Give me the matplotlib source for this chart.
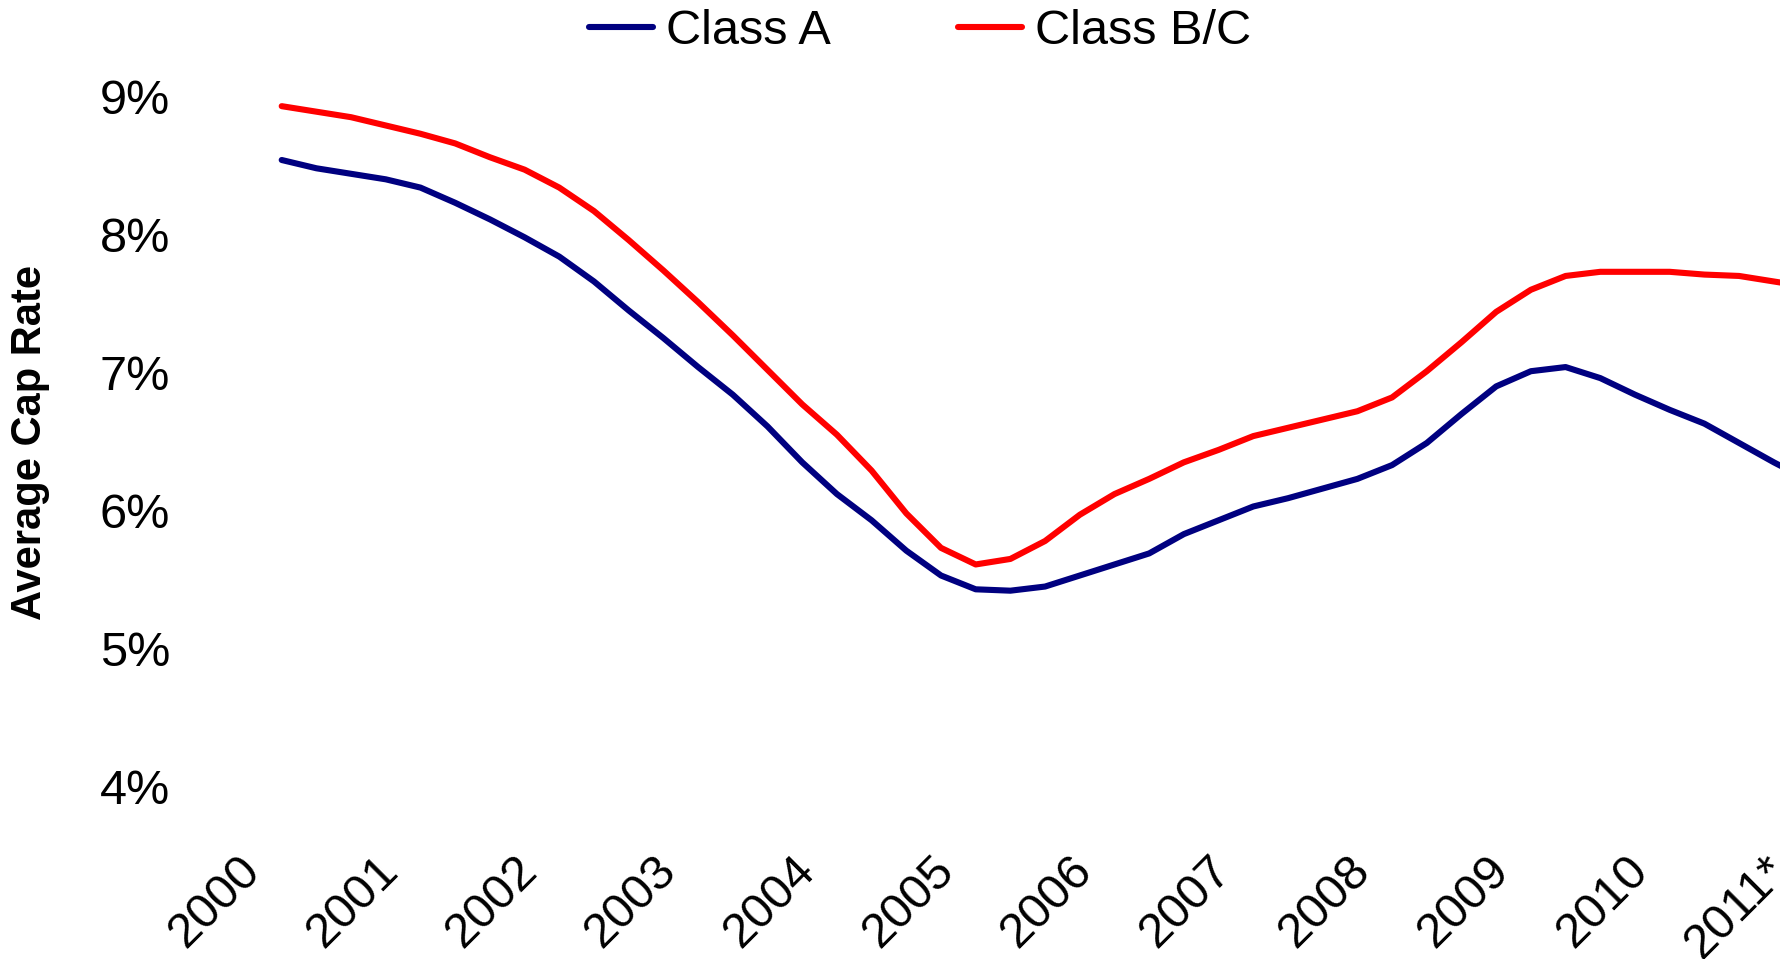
## Average cap rate, Class A vs Class B/C (quarterly)

import matplotlib
matplotlib.use('Agg')
import matplotlib.pyplot as plt
import numpy as np

plt.rcParams['font.family'] = ['Liberation Sans', 'DejaVu Sans']

########################################################################################################################

# Data (percent), one value per quarter starting 2000 Q1
class_a = [8.54, 8.48, 8.44, 8.40, 8.34, 8.23, 8.11, 7.98, 7.84, 7.66, 7.45, 7.25,
           7.04, 6.84, 6.61, 6.35, 6.12, 5.93, 5.71, 5.53, 5.43, 5.42, 5.45, 5.53,
           5.61, 5.69, 5.83, 5.93, 6.03, 6.09, 6.16, 6.23, 6.33, 6.49, 6.70, 6.90,
           7.01, 7.04, 6.96, 6.84, 6.73, 6.63, 6.49, 6.35, 6.22]

class_bc = [8.93, 8.89, 8.85, 8.79, 8.73, 8.66, 8.56, 8.47, 8.34, 8.17, 7.96, 7.74,
            7.51, 7.27, 7.02, 6.77, 6.55, 6.29, 5.98, 5.73, 5.61, 5.65, 5.78, 5.97,
            6.12, 6.23, 6.35, 6.44, 6.54, 6.60, 6.66, 6.72, 6.82, 7.01, 7.22, 7.44,
            7.60, 7.70, 7.73, 7.73, 7.73, 7.71, 7.70, 7.66, 7.62]

years = ['2000', '2001', '2002', '2003', '2004', '2005',
         '2006', '2007', '2008', '2009', '2010', '2011*']

y_ticks = [4, 5, 6, 7, 8, 9]

########################################################################################################################

quarters = np.arange(len(class_a))
label_offset = -1.29        # where the year labels sit relative to the first quarter of each year

fig = plt.figure(figsize=(17.8, 9.59), dpi=100)
ax = fig.add_axes([200 / 1780, 1 - 786.7 / 959, 1580 / 1780, 690.2 / 959])

line_a, = ax.plot(quarters, class_a, color='#000080', lw=4.4, solid_capstyle='round', label='Class A')
line_b, = ax.plot(quarters, class_bc, color='#FF0000', lw=4.4, solid_capstyle='round', label='Class B/C')

ax.set_xlim((200 - 281.7) / 34.7, (1780 - 281.7) / 34.7)
ax.set_ylim(4, 9)

ax.set_yticks(y_ticks)
ax.set_yticklabels([f'{v}%' for v in y_ticks])
ax.set_xticks([4 * k + label_offset for k in range(len(years))])
ax.set_xticklabels(years)

ax.tick_params(axis='y', length=0, pad=21.6, labelsize=35)
ax.tick_params(axis='x', length=0, pad=44, labelsize=35)
plt.setp(ax.get_xticklabels(), rotation=45, ha='right', va='top', rotation_mode='anchor')

for s in ax.spines.values():
    s.set_visible(False)

fig.text(30 / 1780, 1 - 443 / 959, 'Average Cap Rate', rotation=90, fontsize=30,
         fontweight='bold', ha='center', va='center')

fig.legend(handles=[line_a, line_b], loc='center', bbox_to_anchor=(920 / 1780, 1 - 32 / 959),
           ncol=2, frameon=False, fontsize=35, handlelength=1.32, handletextpad=0.27,
           columnspacing=2.6, borderpad=0, borderaxespad=0)

fig.savefig('out.png', dpi=100)
